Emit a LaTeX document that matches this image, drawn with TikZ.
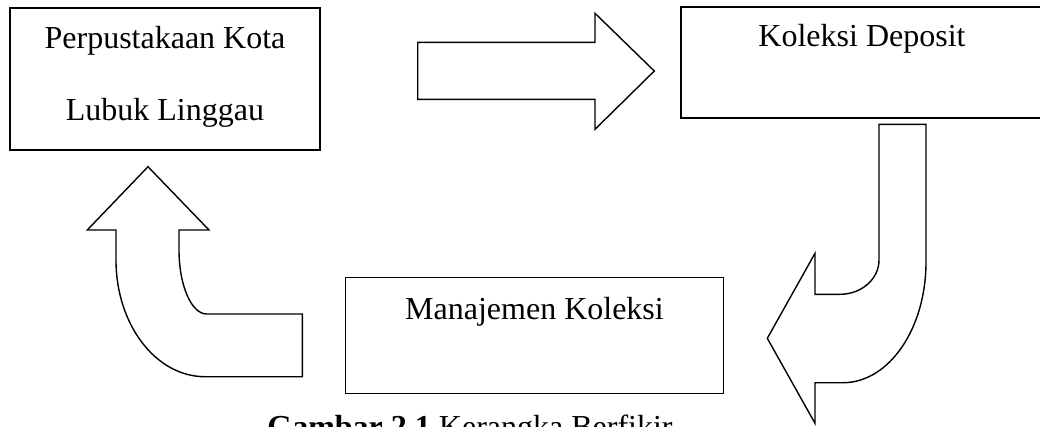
\documentclass[tikz,border=0pt]{standalone}
\usepackage{fontspec}
\setmainfont{Liberation Serif}
\usetikzlibrary{positioning}
\usetikzlibrary{calc}

\begin{document}
\begin{tikzpicture}
			[
				x = 1pt, y = -1pt,
				mybox/.style = {draw, rectangle, line width = 1.5pt, inner sep = 0pt},
				mylabel/.style = {inner sep = 0pt, font = \fontsize{32pt}{72pt}\selectfont},
				myshape/.style = {draw, line width = 1.4pt, fill = white, line join = miter}
			]
			\useasboundingbox (0,0) rectangle (1040,426);
			%
			\node (perpus) [mybox, minimum width = 310pt, minimum height = 142pt] at (165,79) {};
			\node (perpustext) [mylabel, align = center] at ([yshift = 2pt]perpus.center) {Perpustakaan Kota\\Lubuk Linggau};
			%
			\node (deposit) [mybox, minimum width = 362pt, minimum height = 111pt] at (862,62.5) {};
			\node (deposittext) [mylabel, anchor = base] at ([yshift = -40pt]deposit.north) {Koleksi Deposit};
			%
			\node (manajemen) [mybox, minimum width = 377.6pt, minimum height = 116pt] at (534.5,335.3) {};
			\node (manajementext) [mylabel, anchor = base] at ([yshift = -42.7pt]manajemen.north) {Manajemen Koleksi};
			%
			\node (caption) [mylabel, anchor = base] at (470,437) {\textbf{Gambar 2.1} Kerangka Berfikir};
			%
			% right arrow
			\draw [myshape] (417.7,42.3) -- (595,42.3) -- (595,13.3) -- (654.3,71) -- (595,129.3) -- (595,99.3) -- (417.7,99.3) -- cycle;
			%
			% down and left arrow
			\draw [myshape] (879,124.3) -- (926,124.3) -- (926,262)
				.. controls (926,328.8) and (888.8,382.7) .. (843,382.7)
				-- (815,382.7) -- (815,423.3) -- (767.3,338.3) -- (815,253.3) -- (815,294.3) -- (840,294.3)
				.. controls (861.5,294.3) and (879,279) .. (879,260) -- cycle;
			%
			% up arrow
			\draw [myshape] (116,230) -- (87.3,230) -- (148,166.7) -- (209,230) -- (179,230) -- (179,250)
				.. controls (179,285.3) and (191.4,314) .. (206.7,314)
				-- (302.3,314) -- (302.3,376.7) -- (205,376.7)
				.. controls (155.8,376.7) and (116,324.5) .. (116,260) -- cycle;
			%
		\end{tikzpicture}
\end{document}
